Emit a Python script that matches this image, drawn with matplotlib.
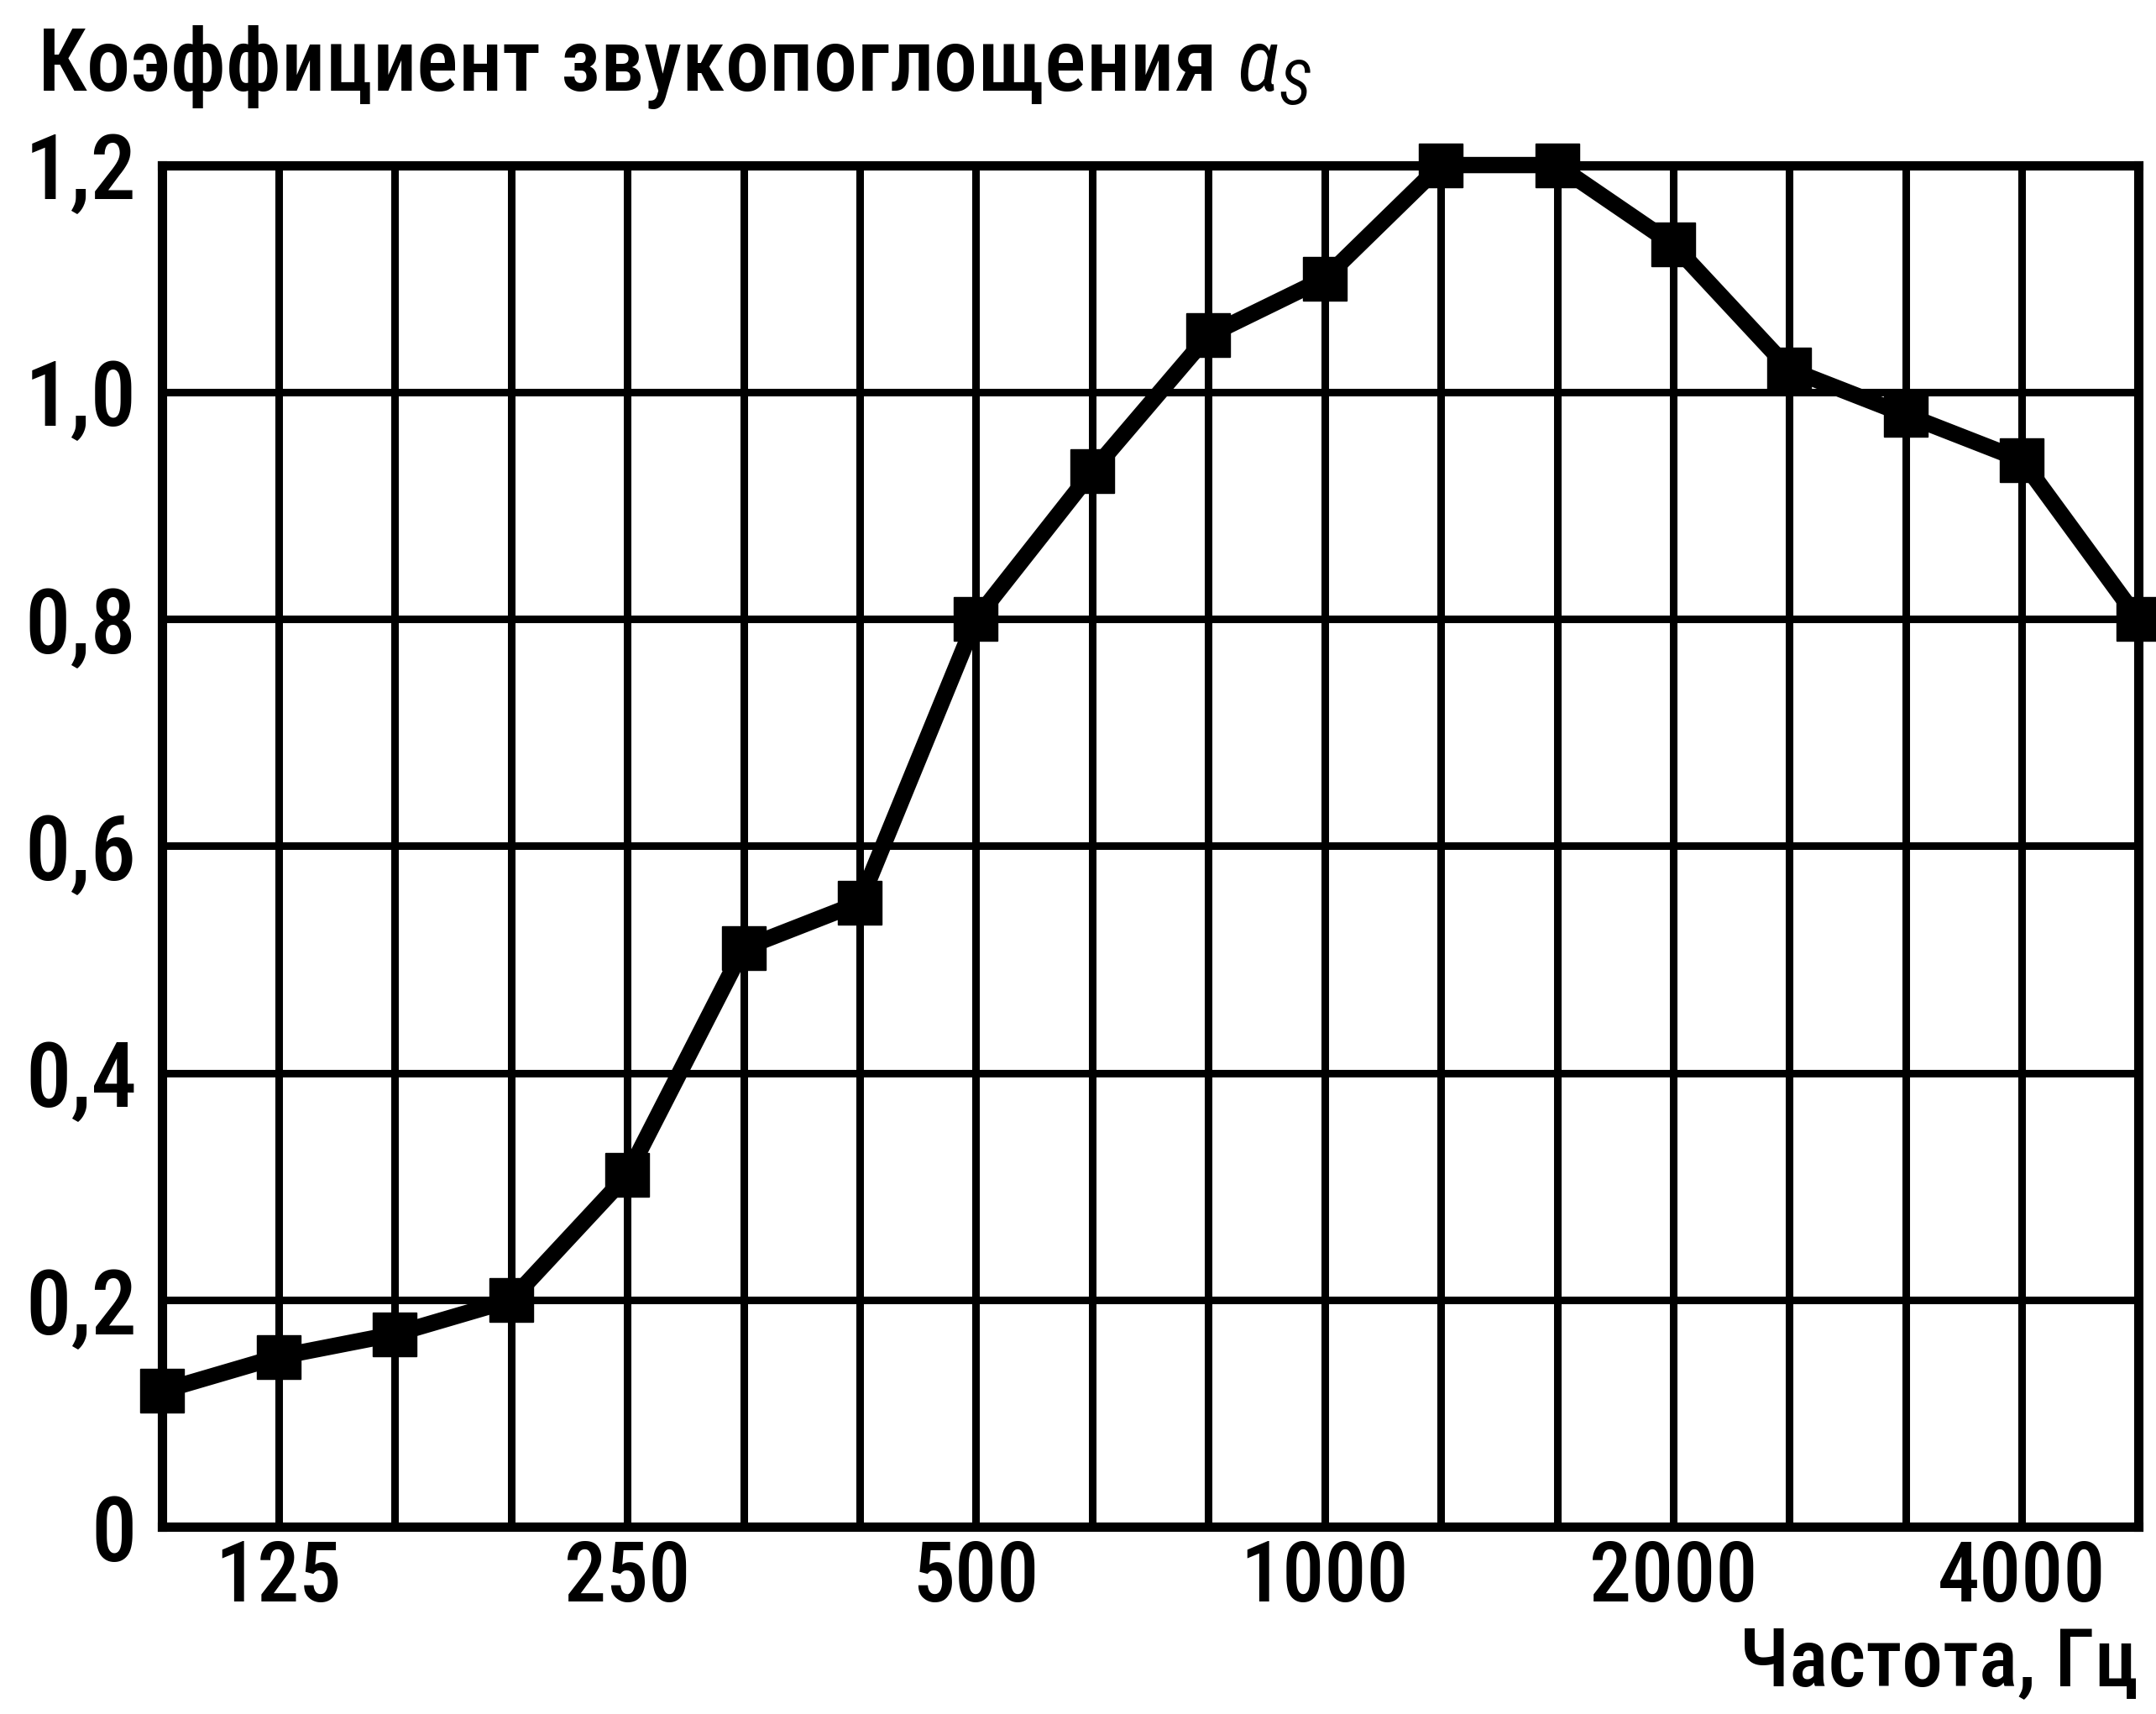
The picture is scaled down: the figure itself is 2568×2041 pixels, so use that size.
import matplotlib
matplotlib.use("Agg")
import matplotlib.pyplot as plt
from matplotlib import font_manager

freqs = ["100", "125", "160", "200", "250", "315", "400", "500", "630", "800",
         "1000", "1250", "1600", "2000", "2500", "3150", "4000", "5000"]
alpha = [0.12, 0.15, 0.17, 0.20, 0.31, 0.51, 0.55, 0.80, 0.93, 1.05,
         1.10, 1.20, 1.20, 1.13, 1.02, 0.98, 0.94, 0.80]
xtick_labels = ["125", "250", "500", "1000", "2000", "4000"]
yticks = [0, 0.2, 0.4, 0.6, 0.8, 1.0, 1.2]
ytick_labels = ["0", "0,2", "0,4", "0,6", "0,8", "1,0", "1,2"]
title = "Коэффициент звукопоглощения $\\alpha_S$"
xlabel = "Частота, Гц"

names = {f.name for f in font_manager.fontManager.ttflist}
fam = "Liberation Sans"
for cand in ["Liberation Sans Narrow", "Roboto Condensed", "Roboto"]:
    if cand in names:
        fam = cand
        break
plt.rcParams['font.family'] = [fam, 'DejaVu Sans']
plt.rcParams['mathtext.fontset'] = 'custom'
plt.rcParams['mathtext.it'] = fam + ':italic'
plt.rcParams['mathtext.rm'] = fam
W = 500

fig = plt.figure(figsize=(25.68, 20.41), dpi=100)
ax = fig.add_axes([0.0753, 0.1091, 0.9917 - 0.0753, 0.9037 - 0.1091])

x = list(range(len(freqs)))
ax.set_xlim(0, len(freqs) - 1)
ax.set_ylim(0, 1.2)

ax.set_xticks(x)
ax.set_xticklabels([f if f in xtick_labels else "" for f in freqs],
                   fontsize=72, fontweight=W)
ax.set_yticks(yticks)
ax.set_yticklabels(ytick_labels, fontsize=78, fontweight=W)
ax.tick_params(axis='both', length=0)
ax.tick_params(axis='x', pad=10)
ax.tick_params(axis='y', pad=22)

ax.grid(True, color='black', linewidth=6.5)
ax.set_axisbelow(True)
for s in ax.spines.values():
    s.set_linewidth(8)
    s.set_color('black')

ax.plot(x, alpha, color='black', linewidth=14, marker='s', markersize=38,
        clip_on=False, zorder=5)

fig.text(0.017, 0.947, title, fontsize=75, fontweight=W,
         ha='left', va='baseline')
fig.text(0.9917, 0.0165, xlabel, fontsize=70, fontweight=W,
         ha='right', va='baseline')

fig.savefig("out.png", dpi=100, facecolor='white')
